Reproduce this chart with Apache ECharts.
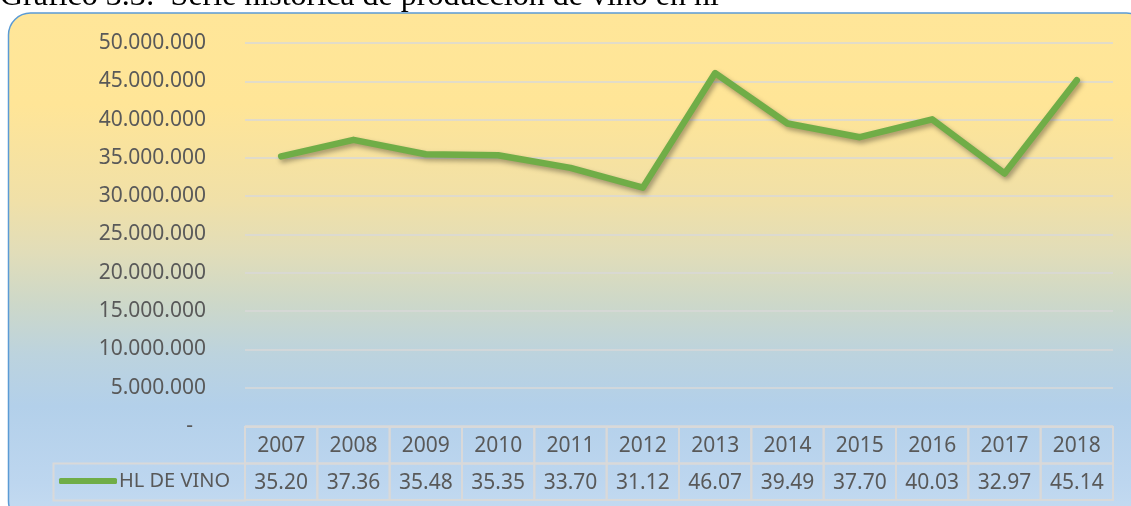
<!DOCTYPE html>
<html>
<head>
<meta charset="utf-8">
<script src="https://cdn.jsdelivr.net/npm/echarts@6/dist/echarts.min.js"></script>
<style>
  html, body { margin: 0; padding: 0; background: #ffffff; }
  #chart { width: 1131px; height: 506px; }
</style>
</head>
<body>
<div id="chart"></div>
<script>
// años y producción (hl)
const years = ["2007", "2008", "2009", "2010", "2011", "2012", "2013", "2014", "2015", "2016", "2017", "2018"];
const hlVino = [35200000, 37360000, 35480000, 35350000, 33700000, 31120000, 46070000, 39490000, 37700000, 40030000, 32970000, 45140000];
const tableValues = ["35.20", "37.36", "35.48", "35.35", "33.70", "31.12", "46.07", "39.49", "37.70", "40.03", "32.97", "45.14"];
const yTicks = { min: 0, max: 50000000, interval: 5000000 };

const chart = echarts.init(document.getElementById("chart"), null, { renderer: "canvas" });

const textColor = "#595959";
const gridColor = "#D9D9D9";
const font = "Noto Sans";

// celdas de la tabla de datos: fila 0 = año, fila 1 = valor
const tableData = [];
years.forEach((y, i) => {
  tableData.push([i, 0, y]);
  tableData.push([i, 1, tableValues[i]]);
});

function fmtMiles(v) {
  if (v === 0) return "{d|-}";
  return String(v).replace(/\B(?=(\d{3})+(?!\d))/g, ".");
}

const option = {
  backgroundColor: "#ffffff",
  animation: false,
  graphic: [
    {
      type: "rect",
      z: -10,
      silent: true,
      shape: { x: 8.5, y: 13, width: 1140, height: 510, r: 22 },
      style: {
        fill: new echarts.graphic.LinearGradient(0, 0, 0, 1, [
          { offset: 0, color: "#FFE699" },
          { offset: 0.18, color: "#FFE597" },
          { offset: 0.37, color: "#F0E0A8" },
          { offset: 0.47, color: "#E1DDB9" },
          { offset: 0.57, color: "#CDD8C9" },
          { offset: 0.67, color: "#BCD3DE" },
          { offset: 0.77, color: "#B3D0EA" },
          { offset: 0.92, color: "#BDD6EF" },
          { offset: 1, color: "#C6DCF1" }
        ]),
        stroke: "#5B9BD5",
        lineWidth: 1.5
      }
    },
    {
      type: "text",
      left: 0,
      top: -19,
      silent: true,
      style: {
        text: "Gráfico 3.3:  Serie histórica de producción de vino en hl",
        font: "32px 'Liberation Serif'",
        fill: "#000000"
      }
    },
    {
      // celda de la leyenda
      type: "rect",
      silent: true,
      shape: { x: 53.5, y: 463.5, width: 191.5, height: 37 },
      style: { fill: "none", stroke: gridColor, lineWidth: 2 }
    }
  ],
  legend: {
    left: 59,
    top: 471,
    padding: 0,
    icon: "roundRect",
    itemWidth: 58,
    itemHeight: 6,
    itemGap: 0,
    textStyle: { color: textColor, fontFamily: font, fontSize: 20, padding: [0, 0, 0, -3] },
    data: ["HL DE VINO"]
  },
  grid: [
    { left: 245, right: 18, top: 43, bottom: 80 },
    { left: 245, right: 18, top: 427, height: 73 }
  ],
  xAxis: [
    {
      type: "category",
      gridIndex: 0,
      data: years,
      axisLine: { show: false },
      axisTick: { show: false },
      axisLabel: { show: false }
    },
    {
      type: "category",
      gridIndex: 1,
      data: years,
      show: false
    }
  ],
  yAxis: [
    {
      type: "value",
      gridIndex: 0,
      min: yTicks.min,
      max: yTicks.max,
      interval: yTicks.interval,
      axisLine: { show: false },
      axisTick: { show: false },
      splitLine: { lineStyle: { color: gridColor, width: 1.5 } },
      axisLabel: {
        formatter: fmtMiles,
        color: textColor,
        fontFamily: font,
        fontSize: 21,
        margin: 39,
        rich: { d: { color: textColor, fontFamily: font, fontSize: 21, padding: [0, 13, 0, 0] } }
      }
    },
    {
      type: "category",
      gridIndex: 1,
      data: ["año", "valor"],
      inverse: true,
      show: false
    }
  ],
  series: [
    {
      name: "HL DE VINO",
      type: "line",
      xAxisIndex: 0,
      yAxisIndex: 0,
      data: hlVino,
      symbol: "none",
      color: "#70AD47",
      lineStyle: {
        color: "#70AD47",
        width: 6.5,
        cap: "round",
        join: "round",
        shadowColor: "rgba(0,0,0,0.35)",
        shadowBlur: 5,
        shadowOffsetX: 2,
        shadowOffsetY: 3
      }
    },
    {
      type: "custom",
      xAxisIndex: 1,
      yAxisIndex: 1,
      data: tableData,
      silent: true,
      renderItem: function (params, api) {
        const c = api.coord([api.value(0), api.value(1)]);
        const s = api.size([1, 1]);
        return {
          type: "group",
          children: [
            {
              type: "rect",
              shape: { x: c[0] - s[0] / 2, y: c[1] - s[1] / 2, width: s[0], height: s[1] },
              style: { fill: "none", stroke: gridColor, lineWidth: 2 }
            },
            {
              type: "text",
              x: c[0],
              y: c[1] + 1,
              style: {
                text: tableData[params.dataIndex][2],
                fill: textColor,
                font: "21px '" + font + "'",
                align: "center",
                verticalAlign: "middle"
              }
            }
          ]
        };
      }
    }
  ]
};

chart.setOption(option);
</script>
</body>
</html>
